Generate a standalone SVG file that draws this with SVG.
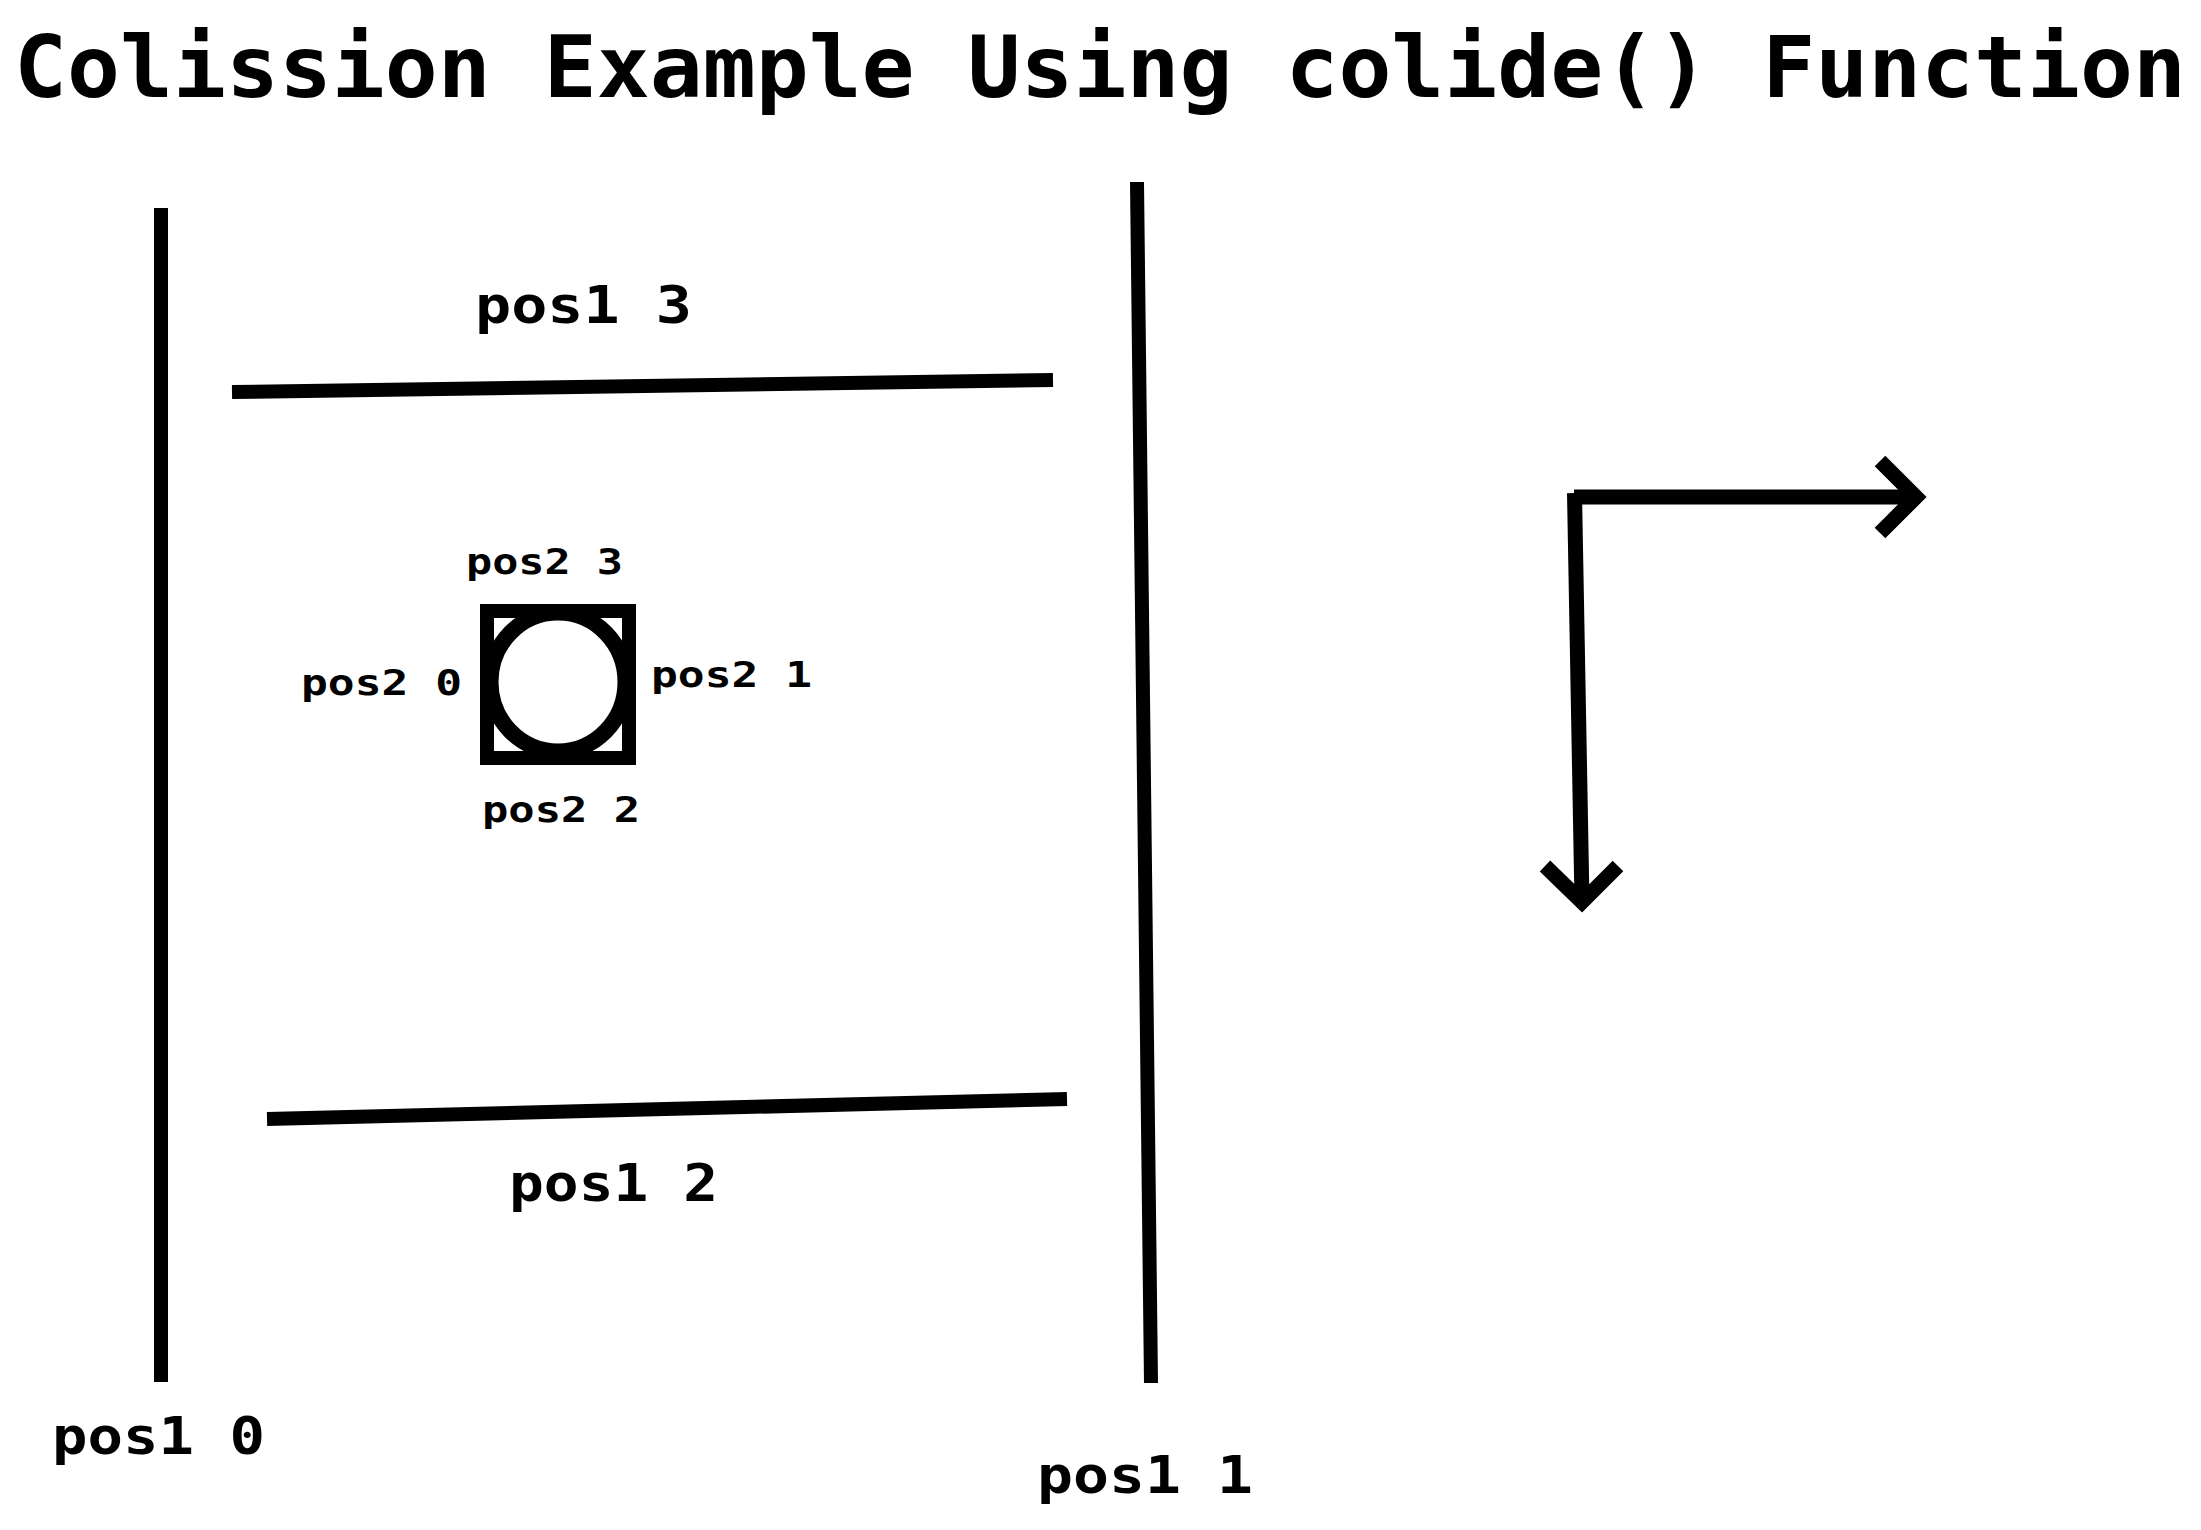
<svg xmlns="http://www.w3.org/2000/svg" width="2201" height="1530" viewBox="0 0 2201 1530">
<style>
  .t { font-family: "DejaVu Sans Mono", "Liberation Mono", monospace; font-weight: bold; fill: #000; }
  .big { font-size: 52px; }
  .small { font-size: 35px; }
  .title { font-size: 86px; }
  .ln { stroke: #000; stroke-width: 14; fill: none; stroke-linecap: butt; }
  .ar { stroke: #000; stroke-width: 15; fill: none; stroke-linecap: butt; stroke-linejoin: miter; }
</style>
<rect x="0" y="0" width="2201" height="1530" fill="#fff"/>
<g id="title">
  <text class="t title" x="14" y="97" textLength="2172" lengthAdjust="spacingAndGlyphs">Colission Example Using colide() Function</text>
</g>
<g id="walls">
  <g id="pos1-0"><line class="ln" x1="161" y1="208" x2="161" y2="1382"/><text class="t big" x="52" y="1454" textLength="213" lengthAdjust="spacingAndGlyphs">pos1 0</text></g>
  <g id="pos1-1"><line class="ln" x1="1137" y1="182" x2="1151" y2="1383"/><text class="t big" x="1037" y="1493" textLength="216" lengthAdjust="spacingAndGlyphs">pos1 1</text></g>
  <g id="pos1-3"><line class="ln" x1="232" y1="392" x2="1053" y2="380"/><text class="t big" x="475" y="323" textLength="217" lengthAdjust="spacingAndGlyphs">pos1 3</text></g>
  <g id="pos1-2"><line class="ln" x1="267" y1="1119" x2="1067" y2="1099"/><text class="t big" x="509" y="1201" textLength="209" lengthAdjust="spacingAndGlyphs">pos1 2</text></g>
</g>
<g id="ball">
  <ellipse cx="558" cy="682" rx="67.5" ry="69.5" fill="none" stroke="#000" stroke-width="16"/>
  <rect x="487" y="611" width="142" height="147" fill="none" stroke="#000" stroke-width="14"/>
  <text class="t small" x="466" y="574" textLength="157" lengthAdjust="spacingAndGlyphs">pos2 3</text>
  <text class="t small" x="301" y="695" textLength="161" lengthAdjust="spacingAndGlyphs">pos2 0</text>
  <text class="t small" x="651" y="687" textLength="161" lengthAdjust="spacingAndGlyphs">pos2 1</text>
  <text class="t small" x="482" y="822" textLength="158" lengthAdjust="spacingAndGlyphs">pos2 2</text>
</g>
<g id="connectors">
  <path class="ar" d="M1574,497 H1916"/>
  <path class="ar" d="M1880,461 L1916,497 L1880,533"/>
  <path class="ar" d="M1574.5,493 L1582,902"/>
  <path class="ar" d="M1545,866 L1582,902 L1618,866"/>
</g>
</svg>
